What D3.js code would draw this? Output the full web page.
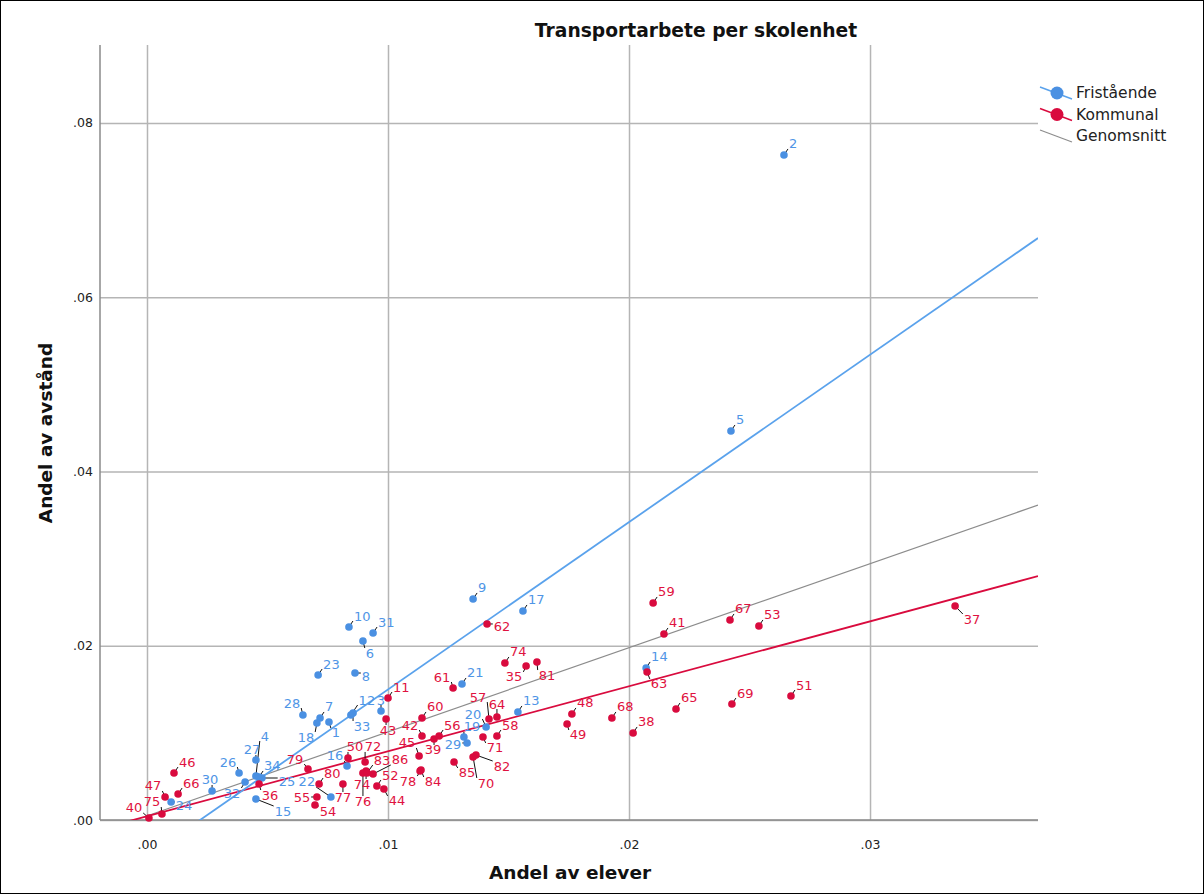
<!DOCTYPE html>
<html>
<head>
<meta charset="utf-8">
<script src="https://cdn.jsdelivr.net/npm/d3@7"></script>
<style>
  body { margin: 0; background: #fff; }
  svg { display: block; }
  text { font-family: "DejaVu Sans", sans-serif; }
</style>
</head>
<body>
<div id="chart"></div>
<script>
// Fristående schools: case number, share of students (x), share of distance (y)
const friLabels = ["1","2","3","4","5","6","7","8","9","10","12","13","14","15","16","17","18","19","20","21","22","23","24","25","26","27","28","29","30","31","32","33","34"];
const friX = [0.00755,0.02643,0.00971,0.00452,0.02423,0.00896,0.00718,0.00863,0.01353,0.00838,0.00846,0.01539,0.02071,0.00452,0.00830,0.01560,0.00705,0.01315,0.01407,0.01307,0.00763,0.00710,0.00100,0.00477,0.00382,0.00452,0.00647,0.01328,0.00270,0.00938,0.00407,0.00855,0.00465];
const friY = [0.01125,0.07633,0.01251,0.00505,0.04465,0.02054,0.01171,0.01687,0.02537,0.02215,0.01205,0.01240,0.01745,0.00241,0.00620,0.02399,0.01113,0.00953,0.01067,0.01561,0.00264,0.01664,0.00207,0.00482,0.00539,0.00689,0.01205,0.00884,0.00333,0.02146,0.00436,0.01228,0.00494];

// Kommunal schools
const komLabels = ["11","35","36","37","38","39","40","41","42","43","44","45","46","47","48","49","50","51","52","53","54","55","56","57","58","59","60","61","62","63","64","65","66","67","68","69","70","71","72","74","74","75","76","77","78","79","80","81","82","83","84","85","86"];
const komX = [0.01000,0.01573,0.00465,0.03353,0.02017,0.01191,0.00008,0.02145,0.01141,0.00992,0.00983,0.01129,0.00112,0.00075,0.01763,0.01743,0.00834,0.02672,0.00954,0.02539,0.00697,0.00705,0.01212,0.01419,0.01452,0.02100,0.01141,0.01270,0.01411,0.02075,0.01452,0.02195,0.00129,0.02419,0.01929,0.02427,0.01353,0.01394,0.00905,0.01485,0.00909,0.00062,0.00896,0.00813,0.01133,0.00668,0.00714,0.01618,0.01365,0.00913,0.01137,0.01274,0.00938];
const komY = [0.01400,0.01768,0.00413,0.02456,0.00999,0.00930,0.00023,0.02135,0.00964,0.01159,0.00356,0.00735,0.00539,0.00264,0.01217,0.01102,0.00712,0.01423,0.00390,0.02227,0.00172,0.00264,0.00964,0.01159,0.00964,0.02491,0.01171,0.01515,0.02250,0.01699,0.01182,0.01274,0.00298,0.02296,0.01171,0.01331,0.00723,0.00953,0.00666,0.01802,0.00562,0.00069,0.00539,0.00413,0.00562,0.00585,0.00413,0.01813,0.00746,0.00539,0.00574,0.00666,0.00528];

// fit lines as [intercept, slope]
const friFit = [-0.00423, 1.921];
const komFit = [0.00043, 0.7457];
const avgFit = [0.00047, 0.965];

const xTicks = [0, 0.01, 0.02, 0.03];
const yTicks = [0, 0.02, 0.04, 0.06, 0.08];
const legendNames = ["Fristående", "Kommunal", "Genomsnitt"];

// label placement: offset of label centre from its point, where not the default
const labelShift = {
  F1:[7,11], F3:[0,-11], F12:[16,-15], F33:[9,13], F4:[9,-40], F6:[7,12], F8:[11,3],
  F15:[27,12], F16:[-12,-10], F18:[-11,14], F19:[8,-10], F20:[-13,-13], F22:[-24,-15],
  F24:[13,4], F25:[25,3], F26:[-11,-11], F27:[-4,-10], F28:[-11,-12], F29:[-14,2],
  F30:[-2,-11], F32:[-13,11],
  K35:[-12,11], K36:[11,11], K37:[17,13], K39:[-1,11], K40:[-15,-10], K42:[-12,-11],
  K43:[2,11], K44:[13,12], K45:[-12,-13], K47:[-12,-11], K49:[11,11], K50:[7,-11],
  K54:[13,6], K55:[-15,1], K57:[-11,-22], K61:[-11,-11], K62:[15,3], K63:[12,12],
  K64:[0,-13], K70:[13,26], K71:[12,11], K72:[8,-15], K74_2:[-4,13], K75:[-10,-12],
  K76:[0,28], K77:[0,13], K78:[-12,10], K79:[-13,-10], K81:[10,13], K82:[26,11],
  K83:[15,-13], K84:[12,12], K85:[13,11], K86:[27,-14]
};

const width = 1204, height = 894;
const plotL = 100, plotR = 1038, plotT = 45, plotB = 820;
const blue = "#4a90e2", blueText = "#4f95e6";
const red = "#d90b3e", redText = "#df1240";

const x = d3.scaleLinear().domain([-0.00195, 0.03697]).range([plotL, plotR]);
const y = d3.scaleLinear().domain([0, 0.08895]).range([plotB, plotT]);
const fmt = d => d3.format(".2f")(d).replace(/^0/, "");

const svg = d3.select("#chart").append("svg")
  .attr("width", width).attr("height", height);

svg.append("rect")
  .attr("x", 0.5).attr("y", 0.5)
  .attr("width", width - 1).attr("height", height - 1)
  .attr("fill", "#fff").attr("stroke", "#000");

svg.append("defs").append("clipPath").attr("id", "plot")
  .append("rect").attr("x", plotL).attr("y", plotT)
  .attr("width", plotR - plotL).attr("height", plotB - plotT);

// grid + tick labels
svg.append("g")
  .attr("transform", `translate(0,${plotB})`)
  .call(d3.axisBottom(x).tickValues(xTicks).tickSize(-(plotB - plotT)).tickPadding(20).tickFormat(fmt))
  .call(g => {
    g.select(".domain").remove();
    g.selectAll(".tick line").attr("stroke", "#b5b5b5").attr("stroke-width", 1.5);
    g.selectAll(".tick text").attr("fill", "#222").attr("font-size", 12.5)
      .attr("font-family", "DejaVu Sans");
  });

svg.append("g")
  .attr("transform", `translate(${plotL},0)`)
  .call(d3.axisLeft(y).tickValues(yTicks).tickSize(-(plotR - plotL)).tickPadding(7).tickFormat(fmt))
  .call(g => {
    g.select(".domain").remove();
    g.selectAll(".tick line").attr("stroke", "#b5b5b5").attr("stroke-width", 1.5);
    g.selectAll(".tick text").attr("fill", "#222").attr("font-size", 12.5)
      .attr("font-family", "DejaVu Sans");
  });

// axis lines
svg.append("line").attr("x1", plotL).attr("x2", plotL).attr("y1", plotT).attr("y2", plotB)
  .attr("stroke", "#8a8a8a").attr("stroke-width", 1.5);
svg.append("line").attr("x1", plotL).attr("x2", plotR).attr("y1", plotB).attr("y2", plotB)
  .attr("stroke", "#8a8a8a").attr("stroke-width", 1.5);

// fit lines
const lineGen = d3.line().x(d => x(d[0])).y(d => y(d[1]));
function fitPoints(fit, x0) {
  const x1 = x.domain()[1];
  return [[x0, fit[0] + fit[1] * x0], [x1, fit[0] + fit[1] * x1]];
}
const lines = svg.append("g").attr("clip-path", "url(#plot)");
lines.append("path").attr("d", lineGen(fitPoints(avgFit, d3.min(komX))))
  .attr("fill", "none").attr("stroke", "#8c8c8c").attr("stroke-width", 1.2);
lines.append("path").attr("d", lineGen(fitPoints(komFit, x.domain()[0])))
  .attr("fill", "none").attr("stroke", red).attr("stroke-width", 1.8);
lines.append("path").attr("d", lineGen(fitPoints(friFit, x.domain()[0])))
  .attr("fill", "none").attr("stroke", "#5aa2ec").attr("stroke-width", 1.8);

// points
const pts = [];
const seen = {};
function addGroup(prefix, labels, xs, ys, col, textCol) {
  labels.forEach((lab, i) => {
    let key = prefix + lab;
    seen[key] = (seen[key] || 0) + 1;
    if (seen[key] > 1) key += "_" + seen[key];
    pts.push({ key, lab, px: x(xs[i]), py: y(ys[i]), col, textCol });
  });
}
addGroup("F", friLabels, friX, friY, blue, blueText);
addGroup("K", komLabels, komX, komY, red, redText);

const leaderG = svg.append("g");
const dotG = svg.append("g");
const labelG = svg.append("g");

pts.forEach(p => {
  const t = labelG.append("text")
    .attr("font-size", 13)
    .attr("fill", p.textCol)
    .attr("text-anchor", "middle")
    .attr("dominant-baseline", "central")
    .text(p.lab);
  const w = t.node().getComputedTextLength();
  const s = labelShift[p.key] || [5 + w / 2, -11];
  const cx = p.px + s[0], cy = p.py + s[1];
  t.attr("x", cx).attr("y", cy);
  // leader to nearest edge of the label box
  const hx = w / 2 + 1, hy = 5;
  const ex = Math.max(cx - hx, Math.min(p.px, cx + hx));
  const ey = Math.max(cy - hy, Math.min(p.py, cy + hy));
  if (Math.hypot(ex - p.px, ey - p.py) > 3) {
    leaderG.append("line")
      .attr("x1", p.px).attr("y1", p.py).attr("x2", ex).attr("y2", ey)
      .attr("stroke", "#111").attr("stroke-width", 1);
  }
  dotG.append("circle")
    .attr("cx", p.px).attr("cy", p.py).attr("r", 3.8)
    .attr("fill", p.col);
});

// titles
svg.append("text").attr("x", 696).attr("y", 37)
  .attr("text-anchor", "middle").attr("font-size", 18.7).attr("font-weight", "bold")
  .attr("fill", "#111").text("Transportarbete per skolenhet");
svg.append("text").attr("x", 570).attr("y", 879)
  .attr("text-anchor", "middle").attr("font-size", 18.5).attr("font-weight", "bold")
  .attr("fill", "#111").text("Andel av elever");
svg.append("text").attr("transform", "translate(52,433) rotate(-90)")
  .attr("text-anchor", "middle").attr("font-size", 18.5).attr("font-weight", "bold")
  .attr("fill", "#111").text("Andel av avstånd");

// legend
const legendCols = [blue, red, "#8c8c8c"];
const leg = svg.append("g").attr("transform", "translate(1040,93)");
legendNames.forEach((name, i) => {
  const g = leg.append("g").attr("transform", `translate(0,${i * 21.5})`);
  g.append("line").attr("x1", 0).attr("y1", -6).attr("x2", 32).attr("y2", 6)
    .attr("stroke", i === 0 ? "#5aa2ec" : legendCols[i]).attr("stroke-width", i === 2 ? 1.2 : 1.5);
  if (i < 2) {
    g.append("circle").attr("cx", 17).attr("cy", 0).attr("r", 6.5).attr("fill", legendCols[i]);
  }
  g.append("text").attr("x", 36).attr("y", 0).attr("dominant-baseline", "central")
    .attr("font-size", 15.5).attr("fill", "#222").text(name);
});
</script>
</body>
</html>
